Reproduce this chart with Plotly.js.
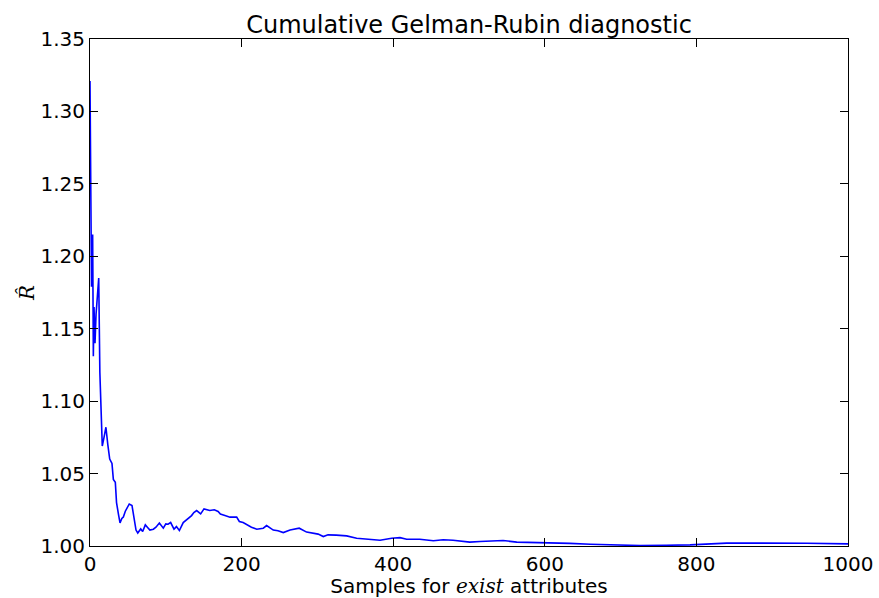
<!DOCTYPE html>
<html>
<head>
<meta charset="utf-8">
<script src="https://cdn.plot.ly/plotly-3.0.1.min.js"></script>
<style>
  html, body { margin: 0; padding: 0; background: #fff; }
  #chart { width: 879px; height: 598px; }
</style>
</head>
<body>
<div id="chart"></div>
<script>
// Cumulative R-hat after each sample
const samples = [
  0, 1, 2, 3.5, 4.4, 5.3, 6.6, 8, 11.5, 13, 16.2, 18.5, 21, 23.5, 26, 29,
  30.8, 33.4, 35, 37.5, 39.6, 42, 44, 46.6, 49, 51.8, 55.4, 58, 60.7, 63,
  66.9, 69.5, 73, 75.7, 79, 83.6, 87, 91.5, 96.7, 100, 103, 106.4, 110.8,
  114, 117.9, 123, 129.7, 134, 137, 140.7, 146, 150.4, 158, 164, 169, 172,
  178, 184.7, 193.5, 197, 202, 206.7, 213, 220, 228.6, 233, 241.8, 248, 255,
  263.9, 270, 276, 285.8, 294, 301, 307.8, 314, 325, 338.6, 351.8, 365,
  382.6, 398, 409, 417.8, 435, 453, 466, 479, 501, 514.5, 545, 563, 598,
  620, 633, 660, 681.6, 725.6, 760, 791.6, 840, 892.7, 945.5, 1000
];
const rhat = [
  1.321, 1.255, 1.179, 1.215, 1.131, 1.165, 1.140, 1.160, 1.185, 1.120,
  1.069, 1.075, 1.082, 1.070, 1.060, 1.057, 1.046, 1.044, 1.030, 1.022,
  1.016, 1.019, 1.020, 1.024, 1.026, 1.029, 1.028, 1.018, 1.011, 1.009,
  1.0118, 1.010, 1.0146, 1.013, 1.011, 1.0116, 1.013, 1.0158, 1.0123,
  1.0153, 1.0150, 1.0162, 1.0116, 1.0134, 1.0107, 1.0162, 1.0192, 1.021,
  1.0231, 1.0245, 1.0222, 1.0256, 1.0245, 1.0250, 1.0238, 1.022, 1.021,
  1.0199, 1.0199, 1.0169, 1.0162, 1.0146, 1.013, 1.0116, 1.0123, 1.0141,
  1.011, 1.0105, 1.0093, 1.011, 1.0118, 1.0123, 1.0096, 1.009, 1.0082,
  1.0065, 1.0077, 1.0075, 1.007, 1.0054, 1.0047, 1.004, 1.0054, 1.0058,
  1.0047, 1.0047, 1.0036, 1.0043, 1.004, 1.0027, 1.0031, 1.0038, 1.0027,
  1.0024, 1.002, 1.0018, 1.0012, 1.0008, 1.0003, 1.0005, 1.0008, 1.002,
  1.0022, 1.0019, 1.0015
];
const xTicks = [0, 200, 400, 600, 800, 1000];
const yTicks = [1.00, 1.05, 1.10, 1.15, 1.20, 1.25, 1.30, 1.35];

const axisCommon = {
  showline: true,
  linecolor: '#000',
  linewidth: 1,
  mirror: 'ticks',
  ticks: 'inside',
  ticklen: 8,
  tickwidth: 1,
  tickcolor: '#000',
  showgrid: false,
  zeroline: false,
  tickfont: { family: 'DejaVu Sans', size: 20, color: '#000' }
};

Plotly.newPlot('chart', [{
  x: samples,
  y: rhat,
  type: 'scatter',
  mode: 'lines',
  line: { color: '#0000ff', width: 1.6 },
  hoverinfo: 'skip'
}], {
  width: 879,
  height: 598,
  margin: { l: 90, r: 31, t: 39, b: 52 },
  paper_bgcolor: '#fff',
  plot_bgcolor: '#fff',
  showlegend: false,
  title: {
    text: 'Cumulative Gelman-Rubin diagnostic',
    font: { family: 'DejaVu Sans', size: 24, color: '#000' },
    x: 0.5, xref: 'paper', xanchor: 'center',
    y: 1, yref: 'paper', yanchor: 'bottom', pad: { b: 6 }
  },
  xaxis: Object.assign({}, axisCommon, {
    range: [0, 1000],
    tickvals: xTicks,
    ticktext: xTicks.map(String),
    title: {
      text: "Samples for <span style='font-family:DejaVu Serif'><i>exist</i></span> attributes",
      font: { family: 'DejaVu Sans', size: 20, color: '#000' },
      standoff: 2
    }
  }),
  yaxis: Object.assign({}, axisCommon, {
    range: [1.00, 1.35],
    tickvals: yTicks,
    ticktext: yTicks.map(v => v.toFixed(2)),
    title: {
      text: "<i>R̂</i>",
      font: { family: 'DejaVu Serif', size: 20, color: '#000' },
      standoff: 0
    }
  })
}, { displayModeBar: false, staticPlot: true });
</script>
</body>
</html>
